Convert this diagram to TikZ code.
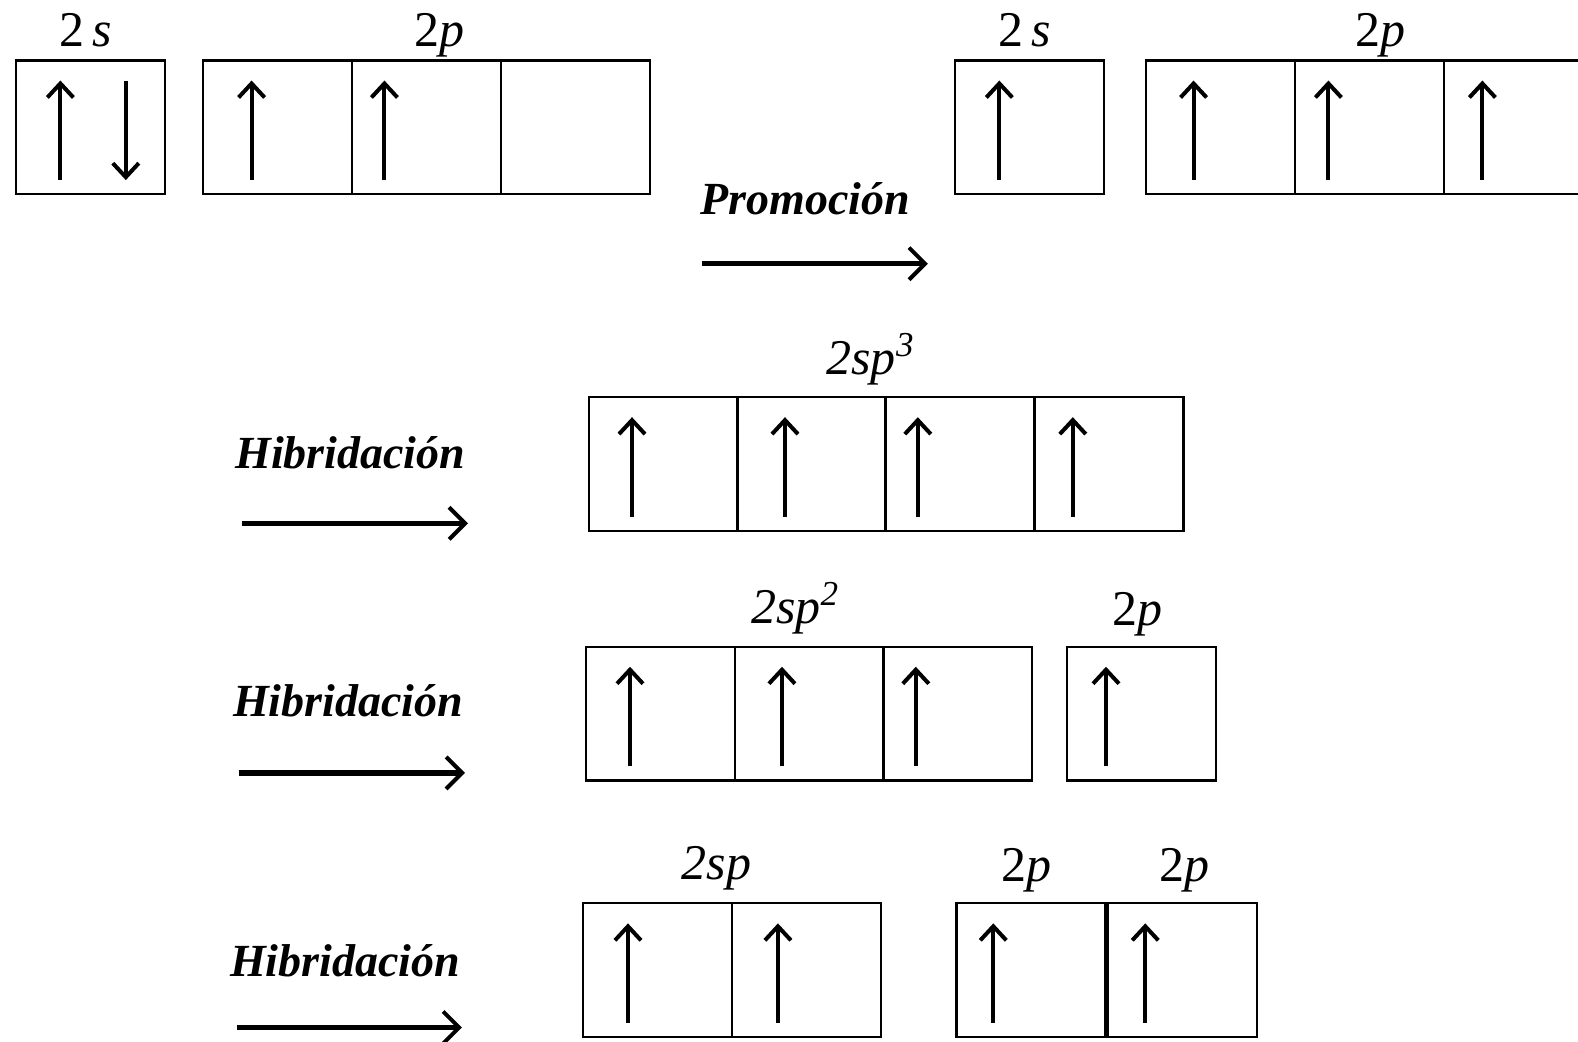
\documentclass[tikz,border=0pt]{standalone}
\usepackage{fontspec}
\setmainfont{Liberation Serif}
\usetikzlibrary{arrows.meta}
\newcommand\spinup[2]{\draw[espin] ([shift={(#2,-14)}]#1.south) -- ([shift={(#2,20)}]#1.north);}
\newcommand\spindown[2]{\draw[espin] ([shift={(#2,20)}]#1.north) -- ([shift={(#2,-14)}]#1.south);}
\begin{document}
\begin{tikzpicture}[x=0.5032pt,y=-0.5032pt,
  cell/.style={draw, line width=1.1pt, minimum width=74.5pt, minimum height=66.9pt, inner sep=0pt, outer sep=0pt},
  espin/.style={line width=2pt, -{Straight Barb[length=7pt,width=13pt,line width=2pt]}},
  bigarrow/.style={line width=2.6pt, -{Straight Barb[length=8pt,width=16pt,line width=2pt]}},
  orb/.style={font=\fontsize{25}{29}\selectfont, anchor=base, inner sep=0pt},
  proc/.style={font=\fontsize{23}{27}\selectfont\bfseries\itshape, anchor=base, inner sep=0pt}]
\useasboundingbox (0,0) rectangle (1568,1035.4);
\clip (0,0) rectangle (1568,1035.4);
\fill[white] (0,0) rectangle (1568,1035.4);

% Row 1 left
\node[cell] (a2s) at (90,126.5) {};
\node[cell] (a2pa) at (276,126.5) {};
\node[cell] (a2pb) at (424,126.5) {};
\node[cell] (a2pc) at (572,126.5) {};
\node[orb] (la2s) at (85,46) {2\,\textit{s}};
\node[orb] (la2p) at (437,46) {2\textit{p}};
\spinup{a2s}{-30}
\spindown{a2s}{35}
\spinup{a2pa}{-26}
\spinup{a2pb}{-42}

% Promocion
\node[proc] (prom) at (800,213) {Promoción};
\coordinate (pa) at (698,262);
\coordinate (pb) at (922,262);
\draw[bigarrow] (pa) -- (pb);

% Row 1 right
\node[cell] (b2s) at (1023,126.5) {};
\node[cell] (b2pa) at (1213,126.5) {};
\node[cell] (b2pb) at (1361,126.5) {};
\node[cell] (b2pc) at (1509,126.5) {};
\node[orb] (lb2s) at (1018,46) {2\,\textit{s}};
\node[orb] (lb2p) at (1372,46) {2\textit{p}};
\spinup{b2s}{-30}
\spinup{b2pa}{-27}
\spinup{b2pb}{-41}
\spinup{b2pc}{-36}

% Row 2 sp3
\node[proc] (h3) at (348,466) {Hibridación};
\coordinate (h3a) at (240,520);
\coordinate (h3b) at (465,520);
\draw[bigarrow] (h3a) -- (h3b);
\node[cell] (s3a) at (659,461) {};
\node[cell] (s3b) at (806.5,461) {};
\node[cell] (s3c) at (954,461) {};
\node[cell] (s3d) at (1102,461) {};
\node[orb] (ls3) at (865,372) {\textit{2sp}\textsuperscript{\textit{3}}};
\spinup{s3a}{-31}
\spinup{s3b}{-26.5}
\spinup{s3c}{-42}
\spinup{s3d}{-36}

% Row 3 sp2
\node[proc] (h2) at (346,712) {Hibridación};
\coordinate (h2a) at (237,768);
\coordinate (h2b) at (462,768);
\draw[bigarrow] (h2a) -- (h2b);
\node[cell] (s2a) at (656,709) {};
\node[cell] (s2b) at (804,709) {};
\node[cell] (s2c) at (951.5,709) {};
\node[cell] (s2p) at (1134.5,709) {};
\node[orb] (ls2) at (790,620) {\textit{2sp}\textsuperscript{\textit{2}}};
\node[orb] (ls2p) at (1130,622) {2\textit{p}};
\spinup{s2a}{-30}
\spinup{s2b}{-27}
\spinup{s2c}{-41.5}
\spinup{s2p}{-35.5}

% Row 4 sp
\node[proc] (h1) at (343,970) {Hibridación};
\coordinate (h1a) at (235,1021);
\coordinate (h1b) at (459,1021);
\draw[bigarrow] (h1a) -- (h1b);
\node[cell] (s1a) at (653,964) {};
\node[cell] (s1b) at (801,964) {};
\node[cell] (p1a) at (1024.5,964) {};
\node[cell] (p1b) at (1175,964) {};
\node[orb] (ls1) at (712,874) {\textit{2sp}};
\node[orb] (lp1a) at (1020,876) {2\textit{p}};
\node[orb] (lp1b) at (1177,876) {2\textit{p}};
\spinup{s1a}{-29}
\spinup{s1b}{-28}
\spinup{p1a}{-37.5}
\spinup{p1b}{-37}
\end{tikzpicture}
\end{document}
